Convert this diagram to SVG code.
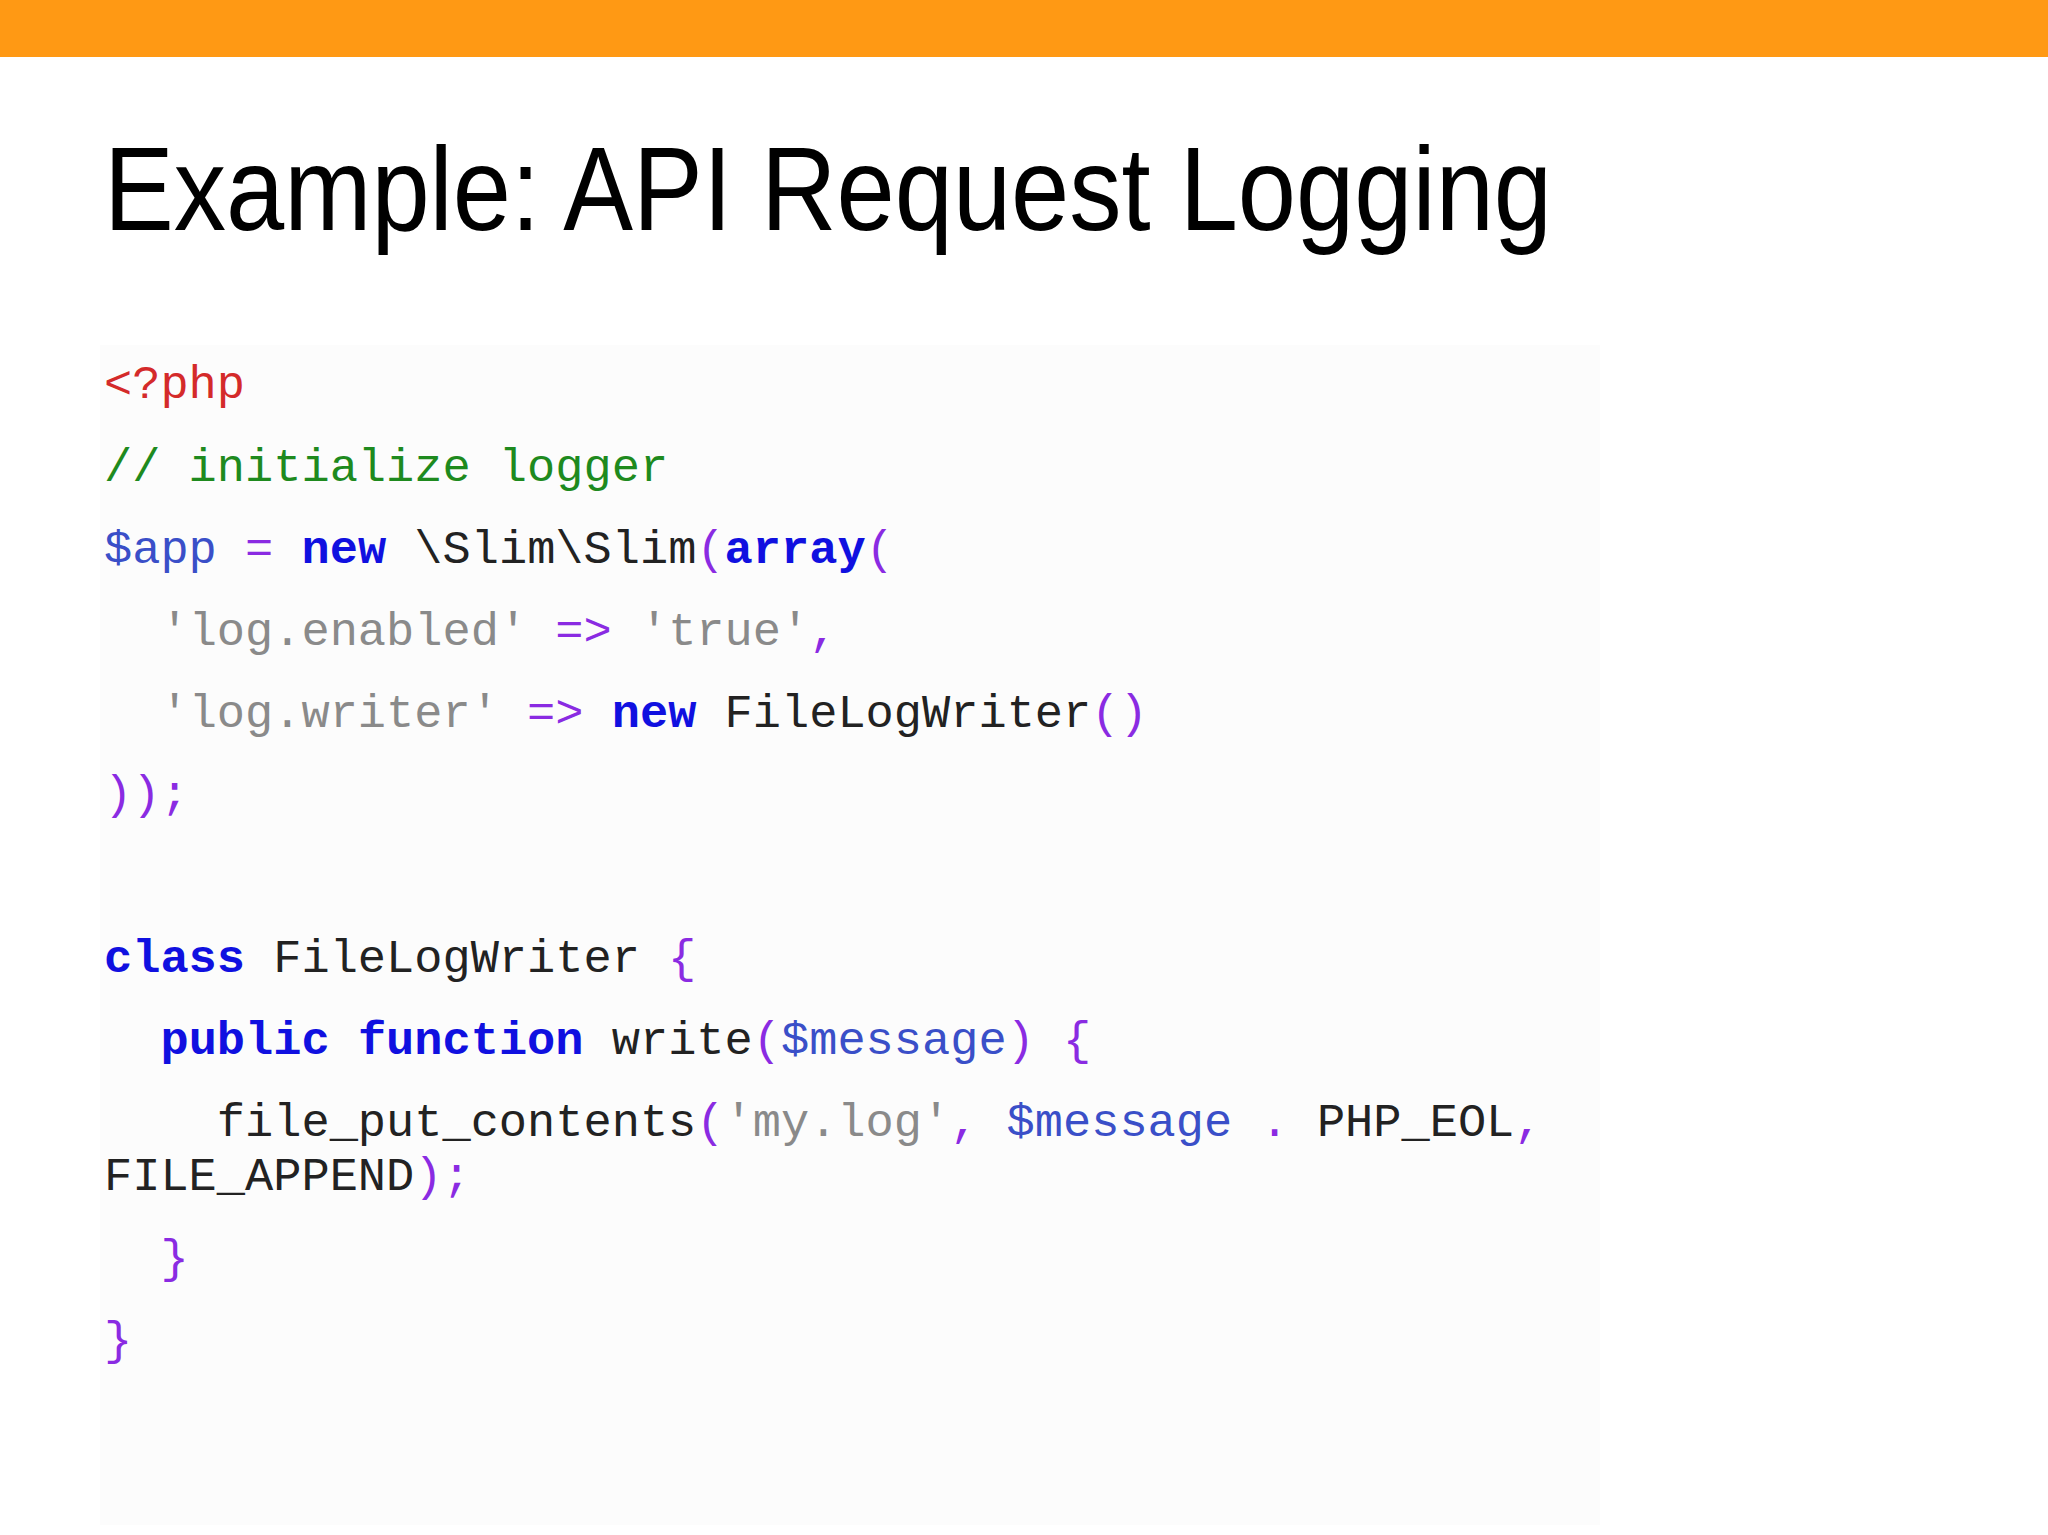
<svg xmlns="http://www.w3.org/2000/svg" width="2048" height="1535" viewBox="0 0 2048 1535">
<style>
.c{font-family:"Liberation Mono",monospace;font-size:47px;fill:#222;white-space:pre}
.r{fill:#d42a2a}.g{fill:#1e8a1e}.v{fill:#3a4fc8}.k{fill:#1010e0;font-weight:bold}.s{fill:#8a8a8a}.p{fill:#8a2be2}
</style>
<rect width="2048" height="1535" fill="#fff"/>
<rect x="0" y="0" width="2048" height="57" fill="#ff9914"/>
<rect x="100" y="345" width="1500" height="1180" fill="#fcfcfc"/>
<text x="104" y="230" font-family="Liberation Sans,sans-serif" font-size="118" fill="#000" textLength="1448" lengthAdjust="spacingAndGlyphs">Example: API Request Logging</text>
<g id="code" xml:space="preserve">
<text class="c" x="104" y="398"><tspan class="r">&lt;?php</tspan></text>
<text class="c" x="104" y="481"><tspan class="g">// initialize logger</tspan></text>
<text class="c" x="104" y="563"><tspan class="v">$app</tspan> <tspan class="p">=</tspan> <tspan class="k">new</tspan> \Slim\Slim<tspan class="p">(</tspan><tspan class="k">array</tspan><tspan class="p">(</tspan></text>
<text class="c" x="104" y="645">  <tspan class="s">'log.enabled'</tspan> <tspan class="p">=&gt;</tspan> <tspan class="s">'true'</tspan><tspan class="p">,</tspan></text>
<text class="c" x="104" y="727">  <tspan class="s">'log.writer'</tspan> <tspan class="p">=&gt;</tspan> <tspan class="k">new</tspan> FileLogWriter<tspan class="p">()</tspan></text>
<text class="c" x="104" y="808"><tspan class="p">));</tspan></text>
<text class="c" x="104" y="972"><tspan class="k">class</tspan> FileLogWriter <tspan class="p">{</tspan></text>
<text class="c" x="104" y="1054">  <tspan class="k">public</tspan> <tspan class="k">function</tspan> write<tspan class="p">(</tspan><tspan class="v">$message</tspan><tspan class="p">)</tspan> <tspan class="p">{</tspan></text>
<text class="c" x="104" y="1136">    file_put_contents<tspan class="p">(</tspan><tspan class="s">'my.log'</tspan><tspan class="p">,</tspan> <tspan class="v">$message</tspan> <tspan class="p">.</tspan> PHP_EOL<tspan class="p">,</tspan></text>
<text class="c" x="104" y="1190">FILE_APPEND<tspan class="p">);</tspan></text>
<text class="c" x="104" y="1272">  <tspan class="p">}</tspan></text>
<text class="c" x="104" y="1354"><tspan class="p">}</tspan></text>
</g>
</svg>
